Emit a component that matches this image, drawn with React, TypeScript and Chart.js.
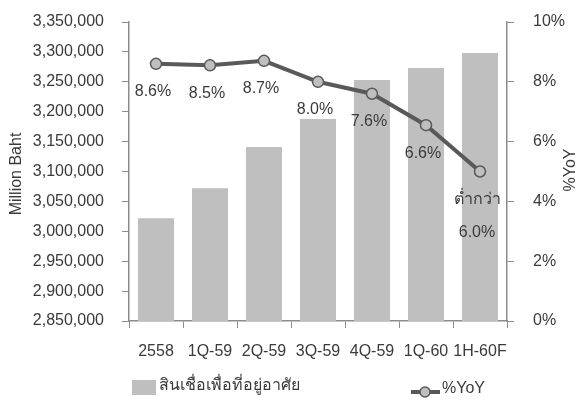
import React, { useEffect, useRef } from "react";
import { Chart, registerables } from "chart.js";

Chart.register(...registerables);

const categories = ["2558", "1Q-59", "2Q-59", "3Q-59", "4Q-59", "1Q-60", "1H-60F"];
const loans = [3022000, 3072000, 3141000, 3188000, 3253000, 3273000, 3298000];
const yoy = [8.6, 8.55, 8.7, 8.0, 7.6, 6.55, 5.0];
const yoyLabels: (string | string[])[] = ["8.6%", "8.5%", "8.7%", "8.0%", "7.6%", "6.6%", ["ต่ำกว่า", "6.0%"]];
const barLegend = "สินเชื่อเพื่อที่อยู่อาศัย";
const lineLegend = "%YoY";
const leftTitle = "Million Baht";
const rightTitle = "%YoY";

const FONT = "'Liberation Sans', Arial, sans-serif";
const TEXT = "#3a3a3a";
const AXIS = "#8c8c8c";
const BAR = "#bfbfbf";
const LINE = "#595959";

const overlay = {
  id: "overlay",
  afterDatasetsDraw(chart: any) {
    const ctx = chart.ctx;
    ctx.save();
    const meta = chart.getDatasetMeta(1);
    ctx.fillStyle = TEXT;
    ctx.font = `16px ${FONT}`;
    ctx.textAlign = "center";
    ctx.textBaseline = "middle";
    meta.data.forEach((pt: any, i: number) => {
      const lab = yoyLabels[i];
      const lines = Array.isArray(lab) ? lab : [lab];
      lines.forEach((t, j) => {
        ctx.fillText(t, pt.x - 3, pt.y + 28 + j * 33);
      });
    });
    ctx.restore();
  },
  afterDraw(chart: any) {
    const ctx = chart.ctx;
    ctx.save();
    ctx.fillStyle = TEXT;
    ctx.font = `16px ${FONT}`;
    ctx.textAlign = "center";
    ctx.textBaseline = "middle";
    ctx.save();
    ctx.translate(17, 174);
    ctx.rotate(-Math.PI / 2);
    ctx.fillText(leftTitle, 0, 0);
    ctx.restore();
    ctx.save();
    ctx.translate(571, 170);
    ctx.rotate(-Math.PI / 2);
    ctx.fillText(rightTitle, 0, 0);
    ctx.restore();
    // legend
    ctx.fillStyle = BAR;
    ctx.fillRect(132, 380, 24, 15);
    ctx.fillStyle = TEXT;
    ctx.font = `16px ${FONT}`;
    ctx.textAlign = "left";
    ctx.fillText(barLegend, 159, 386);
    ctx.strokeStyle = LINE;
    ctx.lineWidth = 4;
    ctx.beginPath();
    ctx.moveTo(411, 392);
    ctx.lineTo(440, 392);
    ctx.stroke();
    ctx.beginPath();
    ctx.arc(425, 392, 5, 0, Math.PI * 2);
    ctx.fillStyle = BAR;
    ctx.fill();
    ctx.lineWidth = 1.5;
    ctx.stroke();
    ctx.fillStyle = TEXT;
    ctx.fillText(lineLegend, 442, 389);
    ctx.restore();
  },
};

export default function App() {
  const ref = useRef<HTMLCanvasElement>(null);
  useEffect(() => {
    if (!ref.current) return;
    const chart = new Chart(ref.current, {
      type: "bar",
      data: {
        labels: categories,
        datasets: [
          {
            type: "bar",
            label: barLegend,
            data: loans,
            backgroundColor: BAR,
            yAxisID: "y",
            barPercentage: 0.667,
            categoryPercentage: 1,
            order: 2,
          },
          {
            type: "line",
            label: lineLegend,
            data: yoy,
            borderColor: LINE,
            borderWidth: 4,
            pointRadius: 5.5,
            pointBackgroundColor: BAR,
            pointBorderColor: LINE,
            pointBorderWidth: 1.5,
            yAxisID: "y1",
            order: 1,
          } as any,
        ],
      },
      options: {
        responsive: false,
        animation: false,
        layout: { padding: { top: 22, left: 0, right: 0, bottom: 0 } },
        plugins: { legend: { display: false }, tooltip: { enabled: false } },
        scales: {
          x: {
            offset: true,
            grid: { display: true, drawOnChartArea: false, drawTicks: true, tickLength: 7, color: AXIS, offset: true },
            border: { display: true, color: AXIS, width: 1.5 },
            ticks: { color: TEXT, font: { family: FONT, size: 16 }, padding: 14, maxRotation: 0, autoSkip: false },
            afterFit: (s: any) => { s.height = 80; s.paddingLeft = 0; s.paddingRight = 0; },
          },
          y: {
            position: "left",
            min: 2850000,
            max: 3350000,
            grid: { display: true, drawOnChartArea: false, drawTicks: true, tickLength: 7, color: AXIS },
            border: { display: true, color: AXIS, width: 1.5 },
            ticks: {
              stepSize: 50000,
              color: TEXT,
              font: { family: FONT, size: 16 },
              padding: 18,
              callback: (v: any) => Number(v).toLocaleString("en-US"),
            },
            afterFit: (s: any) => { s.width = 129; s.paddingTop = 0; s.paddingBottom = 0; },
          },
          y1: {
            position: "right",
            min: 0,
            max: 10,
            grid: { display: true, drawOnChartArea: false, drawTicks: true, tickLength: 7, color: AXIS },
            border: { display: true, color: AXIS, width: 1.5 },
            ticks: {
              stepSize: 2,
              color: TEXT,
              font: { family: FONT, size: 16 },
              padding: 19,
              callback: (v: any) => `${v}%`,
            },
            afterFit: (s: any) => { s.width = 73; s.paddingTop = 0; s.paddingBottom = 0; },
          },
        },
      } as any,
      plugins: [overlay],
    });
    return () => chart.destroy();
  }, []);
  return (
    <div style={{ position: "fixed", left: 0, top: 0, width: 580, height: 401, background: "#fff" }}>
      <canvas ref={ref} width={580} height={401} style={{ width: 580, height: 401, display: "block" }} />
    </div>
  );
}
